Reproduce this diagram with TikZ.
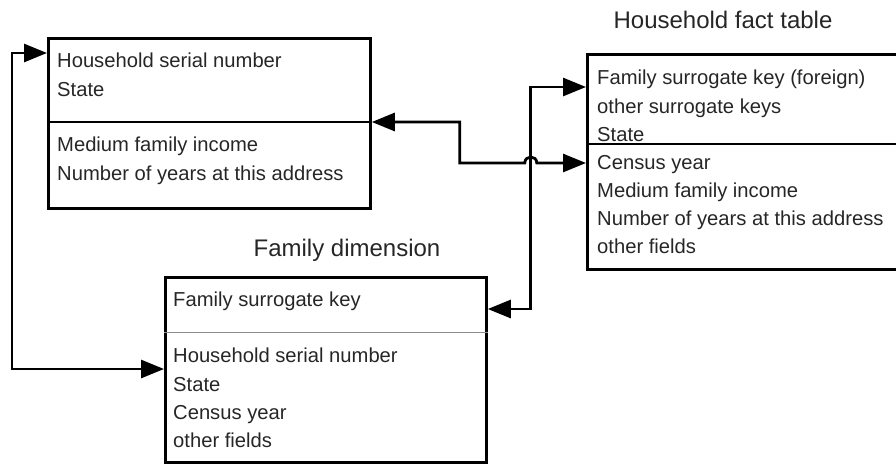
\documentclass[tikz,border=0pt]{standalone}
\usepackage{fontspec}
\setmainfont{Liberation Sans}
\usetikzlibrary{arrows.meta,calc}

\begin{document}
\begin{tikzpicture}[x=1pt,y=-1pt,
  tbl/.style={draw=black,line width=2.8pt,rectangle,inner sep=0pt,anchor=north west},
  rows/.style={inner sep=0pt,anchor=north west,align=left,text=black!85,
               font=\fontsize{20.2}{28.2}\selectfont},
  caption/.style={inner sep=0pt,text=black!85,font=\fontsize{24}{28}\selectfont},
  sep/.style={line width=2.8pt},
  thinsep/.style={line width=0.9pt,draw=black!45},
  link/.style={line width=2.8pt,
    {Triangle[length=23pt,width=18pt]}-{Triangle[length=23pt,width=18pt]}}
]
\clip (0,0) rectangle (896,464);

% tables
\node[tbl,minimum width=322pt,minimum height=170pt] (hh) at (47,37) {};
\node[tbl,minimum width=321pt,minimum height=185pt] (fam) at (164,276) {};
\node[tbl,minimum width=320pt,minimum height=215pt] (fact) at (586,53) {};

% section dividers
\draw[sep] ($(hh.north west)+(0,85)$) -- ($(hh.north east)+(0,85)$);
\draw[thinsep] ($(fam.north west)+(0,56)$) -- ($(fam.north east)+(0,56)$);
\draw[sep] ($(fact.north west)+(0,91)$) -- ($(fact.north east)+(0,91)$);

% captions
\node[caption] (famtitle) at (347,250) {Family dimension};
\node[caption] (facttitle) at (723,20) {Household fact table};

% fields
\node[rows] (hhkeys) at (57,53) {Household serial number\\State};
\node[rows] (hhattr) at (57,137) {Medium family income\\Number of years at this address};
\node[rows] (famkey) at (173,292) {Family surrogate key};
\node[rows] (famattr) at (173,348) {Household serial number\\State\\Census year\\other fields};
\node[rows] (factkeys) at (597,70) {Family surrogate key (foreign)\\other surrogate keys\\State};
\node[rows] (factattr) at (597,155) {Census year\\Medium family income\\Number of years at this address\\other fields};

% connectors
\draw[link] ($(fam.north west)+(0,93)$) -- ++(-152,0) |- ($(hh.north west)+(0,16)$);
\draw[link] ($(fam.north east)+(0,33)$) -- ++(43,0) |- ($(fact.north west)+(0,34)$);
\draw[link] ($(hh.north east)+(0,85)$) -- ++(88,0) -- ++(0,41) -- ++(65,0)
  .. controls ++(0,-8) and ++(0,-8) .. ++(12,0) |- ($(fact.north west)+(0,110)$);
\end{tikzpicture}
\end{document}
